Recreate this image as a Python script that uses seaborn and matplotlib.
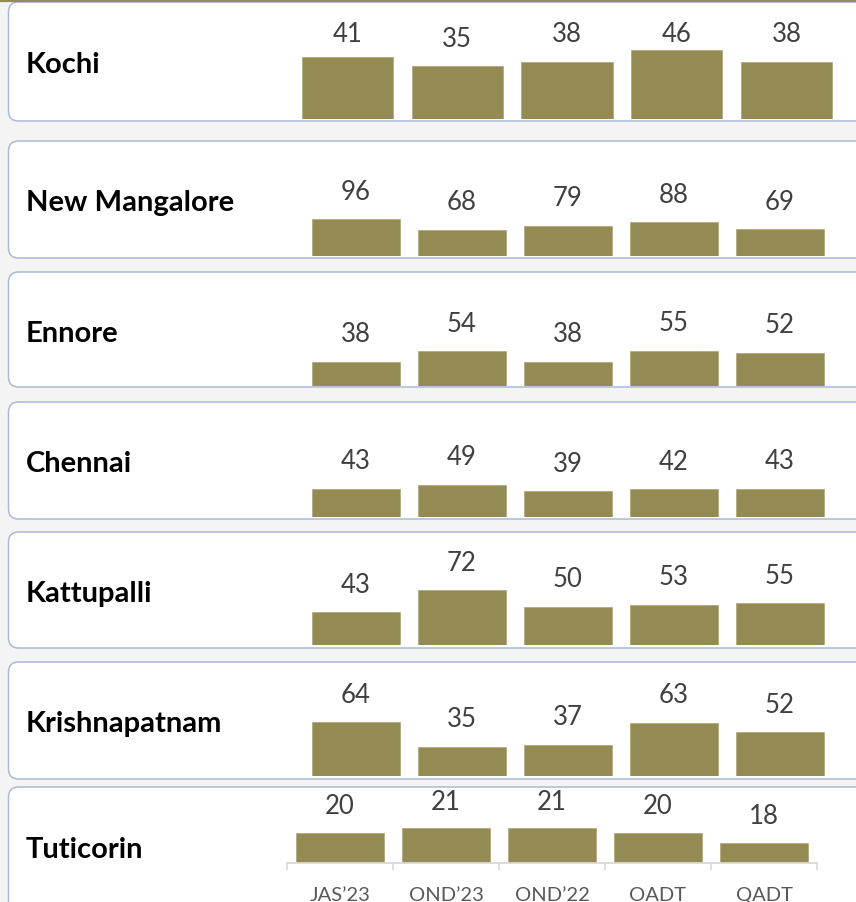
import matplotlib
matplotlib.use("Agg")
import matplotlib.pyplot as plt
from matplotlib.patches import FancyBboxPatch
import seaborn as sns
import pandas as pd

# ---------------- data ----------------
ports = ["Kochi", "New Mangalore", "Ennore", "Chennai", "Kattupalli", "Krishnapatnam", "Tuticorin"]
periods = ["JAS\u201923", "OND\u201923", "OND\u201922", "OADT", "QADT"]
kochi = [41, 35, 38, 46, 38]
new_mangalore = [96, 68, 79, 88, 69]
ennore = [38, 54, 38, 55, 52]
chennai = [43, 49, 39, 42, 43]
kattupalli = [43, 72, 50, 53, 55]
krishnapatnam = [64, 35, 37, 63, 52]
tuticorin = [20, 21, 21, 20, 18]
series = [kochi, new_mangalore, ennore, chennai, kattupalli, krishnapatnam, tuticorin]

# ---------------- layout (pixels) ----------------
W, H = 856, 902
BAR = "#948A54"
BG = "#F4F4F4"
BORDER = "#A9BBD5"

panel_top = [2, 141, 272, 402, 532, 662, 787]
panel_bot = [121, 258, 387, 519, 648, 779, 930]
name_y = [65, 203, 334, 464, 594, 724, 850]
baseline = [119, 256, 386, 517, 645, 776, 863]
ylims = [(0, 53), (0, 208), (0, 125), (0, 122), (0, 105), (0, 95), (14, 30)]
xspan = [(292.5, 841.5), (303, 833), (303, 833), (303, 833), (303, 833), (303, 833), (287, 817)]
label_ceiling = [85, 200, 200, 200, 200, 200, 60]  # px above baseline
AX_H = 80

sns.set_theme(style="white")
plt.rcParams["font.family"] = ["Lato", "DejaVu Sans"]

fig = plt.figure(figsize=(W / 100, H / 100), dpi=100, facecolor=BG)

# background axes in pixel coordinates
bg = fig.add_axes([0, 0, 1, 1], zorder=0)
bg.set_xlim(0, W)
bg.set_ylim(H, 0)
bg.axis("off")
bg.plot([0, W], [0.8, 0.8], color=BAR, lw=1.6, solid_capstyle="butt")
for t, b in zip(panel_top, panel_bot):
    p = FancyBboxPatch((8.5, t), 900, b - t,
                       boxstyle="round,pad=0,rounding_size=10",
                       facecolor="white", edgecolor=BORDER, linewidth=1.1)
    bg.add_patch(p)

for i, (port, vals) in enumerate(zip(ports, series)):
    fig.text(26 / W, 1 - name_y[i] / H, port, ha="left", va="center",
             fontsize=21, fontweight="bold", color="black")
    x0, x1 = xspan[i]
    ax = fig.add_axes([x0 / W, 1 - baseline[i] / H, (x1 - x0) / W, AX_H / H], zorder=2)
    ax.patch.set_alpha(0)
    df = pd.DataFrame({"period": periods, "value": vals})
    sns.barplot(data=df, x="period", y="value", color=BAR, width=0.83,
                saturation=1, edgecolor="#B3AB80", linewidth=0.6, ax=ax)
    lo, hi = ylims[i]
    ax.set_ylim(lo, hi)
    ax.set_xlim(-0.5, 4.5)
    ax.set_ylabel("")
    ax.set_xlabel("")
    ax.set_yticks([])
    for s in ["top", "right", "left"]:
        ax.spines[s].set_visible(False)
    # value labels
    for j, v in enumerate(vals):
        bar_px = (v - lo) / (hi - lo) * AX_H
        ypx = min(bar_px + 27, label_ceiling[i])
        ax.text(j, ypx / AX_H, str(v), transform=ax.get_xaxis_transform(),
                ha="center", va="center", fontsize=18.5, color="#404040", clip_on=False)
    if i == len(ports) - 1:
        ax.spines["bottom"].set_visible(True)
        ax.spines["bottom"].set_color("#D9D9D9")
        ax.spines["bottom"].set_linewidth(1.3)
        ax.set_xticks(range(len(periods)))
        ax.set_xticklabels(periods)
        ax.set_xticks([k - 0.5 for k in range(len(periods) + 1)], minor=True)
        ax.tick_params(axis="x", which="major", length=0, pad=17, labelsize=14.5,
                       labelcolor="#595959")
        ax.tick_params(axis="x", which="minor", length=5, width=1.3, color="#D9D9D9",
                       direction="out", bottom=True)
    else:
        ax.spines["bottom"].set_visible(False)
        ax.set_xticks([])

fig.savefig("out.png", dpi=100, facecolor=BG)
